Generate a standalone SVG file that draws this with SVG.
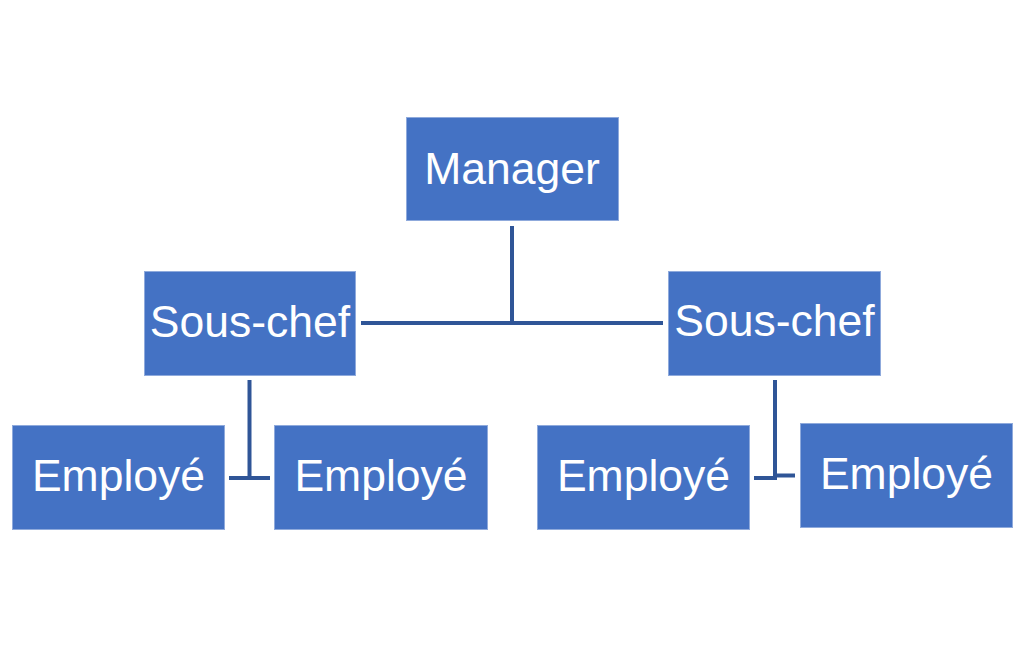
<svg xmlns="http://www.w3.org/2000/svg" width="1024" height="646" viewBox="0 0 1024 646">
<style>
.box{fill:#4472C4;stroke:#8FAADC;stroke-width:1}
.lbl{font-family:"Liberation Sans",Arial,sans-serif;font-size:44.5px;fill:#FFFFFF;text-anchor:middle}
.con{stroke:#2F5597;stroke-width:4;fill:none}
</style>
<rect width="1024" height="646" fill="#FFFFFF"/>
<g id="connectors">
<line class="con" x1="512" y1="226" x2="512" y2="325"/>
<line class="con" x1="361" y1="323" x2="663" y2="323"/>
<line class="con" x1="249.5" y1="380" x2="249.5" y2="480"/>
<line class="con" x1="229" y1="478" x2="270" y2="478"/>
<line class="con" x1="775" y1="380" x2="775" y2="480"/>
<line class="con" x1="754" y1="478" x2="777" y2="478"/>
<line class="con" x1="775" y1="475.5" x2="795" y2="475.5"/>
</g>
<g id="manager">
<rect class="box" x="406.5" y="117.5" width="212" height="103"/>
<text class="lbl" x="512" y="184">Manager</text>
</g>
<g id="souschef-left">
<rect class="box" x="144.5" y="271.5" width="211" height="104"/>
<text class="lbl" x="250" y="337">Sous-chef</text>
</g>
<g id="souschef-right">
<rect class="box" x="668.5" y="271.5" width="212" height="104"/>
<text class="lbl" x="774.5" y="336">Sous-chef</text>
</g>
<g id="employe-1">
<rect class="box" x="12.5" y="425.5" width="212" height="104"/>
<text class="lbl" x="118.5" y="491">Employé</text>
</g>
<g id="employe-2">
<rect class="box" x="274.5" y="425.5" width="213" height="104"/>
<text class="lbl" x="381" y="491">Employé</text>
</g>
<g id="employe-3">
<rect class="box" x="537.5" y="425.5" width="212" height="104"/>
<text class="lbl" x="643.5" y="491">Employé</text>
</g>
<g id="employe-4">
<rect class="box" x="800.5" y="423.5" width="212" height="104"/>
<text class="lbl" x="906.5" y="489">Employé</text>
</g>
</svg>
